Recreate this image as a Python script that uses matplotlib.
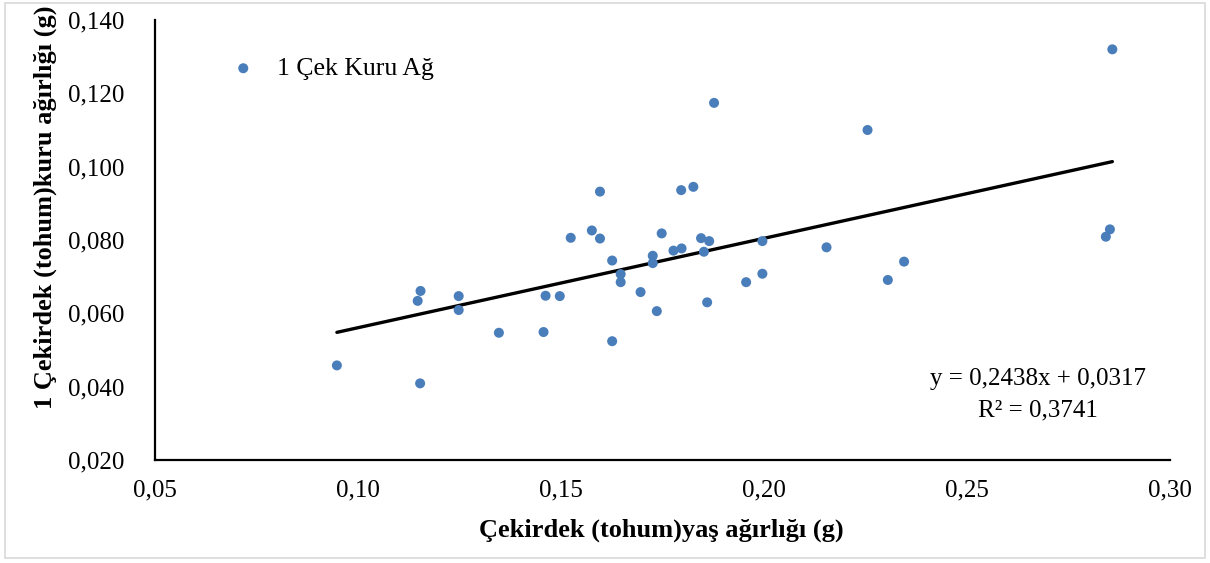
import matplotlib
matplotlib.use("Agg")
import matplotlib.pyplot as plt
from matplotlib.ticker import FuncFormatter, MultipleLocator
from matplotlib.patches import Rectangle

# Seed fresh weight (g) and dry weight (g) per kernel
fresh_weight = [0.0948, 0.1153, 0.1147, 0.1154, 0.1248, 0.1248, 0.1347, 0.1457,
                0.1462, 0.1497, 0.1524, 0.1576, 0.1596, 0.1596, 0.1626, 0.1626,
                0.1647, 0.1647, 0.1696, 0.1726, 0.1726, 0.1736, 0.1748, 0.1777,
                0.1797, 0.1796, 0.1826, 0.1845, 0.1852, 0.1865, 0.1860, 0.1877,
                0.1956, 0.1996, 0.1996, 0.2154, 0.2255, 0.2305, 0.2345, 0.2842,
                0.2852, 0.2858]
dry_weight = [0.0458, 0.0409, 0.0634, 0.0661, 0.0647, 0.0609, 0.0547, 0.0549,
              0.0648, 0.0647, 0.0806, 0.0826, 0.0804, 0.0932, 0.0744, 0.0524,
              0.0707, 0.0685, 0.0658, 0.0757, 0.0737, 0.0606, 0.0818, 0.0771,
              0.0777, 0.0936, 0.0945, 0.0805, 0.0768, 0.0797, 0.0630, 0.1174,
              0.0685, 0.0797, 0.0708, 0.0780, 0.1100, 0.0691, 0.0741, 0.0809,
              0.0829, 0.1320]

# Linear trend reported on the chart
slope = 0.2438
intercept = 0.0317
r_squared = 0.3741

series_name = "1 Çek Kuru Ağ"
x_title = "Çekirdek (tohum)yaş ağırlığı (g)"
y_title = "1 Çekirdek (tohum)kuru ağırlığı (g)"

plt.rcParams["font.family"] = ["Liberation Serif", "DejaVu Serif"]

W, H = 1210, 563
fig = plt.figure(figsize=(W / 100, H / 100), dpi=100)
ax = fig.add_axes([155 / W, 1 - 460 / H, (1170 - 155) / W, (460 - 20) / H])

blue = "#4A7EBB"
ax.scatter(fresh_weight, dry_weight, s=52, color=blue, edgecolors="none",
           zorder=3, label=series_name)

x0, x1 = min(fresh_weight), max(fresh_weight)
ax.plot([x0, x1], [slope * x0 + intercept, slope * x1 + intercept],
        color="black", lw=2.4, solid_capstyle="round", zorder=2)

ax.set_xlim(0.05, 0.30)
ax.set_ylim(0.020, 0.140)
ax.xaxis.set_major_locator(MultipleLocator(0.05))
ax.yaxis.set_major_locator(MultipleLocator(0.02))
ax.xaxis.set_major_formatter(FuncFormatter(lambda v, p: f"{v:.2f}".replace(".", ",")))
ax.yaxis.set_major_formatter(FuncFormatter(lambda v, p: f"{v:.3f}".replace(".", ",")))
ax.tick_params(axis="both", length=0, labelsize=18)
ax.tick_params(axis="x", pad=14)
ax.tick_params(axis="y", pad=22)

for side in ("top", "right"):
    ax.spines[side].set_visible(False)
for side in ("left", "bottom"):
    ax.spines[side].set_linewidth(1.6)
    ax.spines[side].set_color("black")

fig.text(661 / W, 1 - 530 / H, x_title, ha="center", va="center",
         fontsize=19, fontweight="bold")
fig.text(45 / W, 1 - 207 / H, y_title, ha="center", va="center",
         rotation=90, fontsize=19, fontweight="bold")

eq = f"y = {slope:.4f}x + {intercept:.4f}".replace(".", ",")
r2 = f"R² = {r_squared:.4f}".replace(".", ",")
fig.text(1038 / W, 1 - 379 / H, eq, ha="center", va="center", fontsize=18)
fig.text(1038 / W, 1 - 410 / H, r2, ha="center", va="center", fontsize=18)

ax.legend(loc="upper left", bbox_to_anchor=(224 / W, 1 - 57 / H),
          bbox_transform=fig.transFigure, frameon=False, fontsize=18.5,
          handletextpad=0.55, handlelength=1.5, borderaxespad=0, borderpad=0,
          scatterpoints=1, markerscale=1.0)

fig.add_artist(Rectangle((5 / W, 5 / H), (W - 10) / W, (H - 8) / H,
                         transform=fig.transFigure, fill=False,
                         edgecolor="#d9d9d9", lw=1.2))

fig.savefig("out.png", dpi=100)
